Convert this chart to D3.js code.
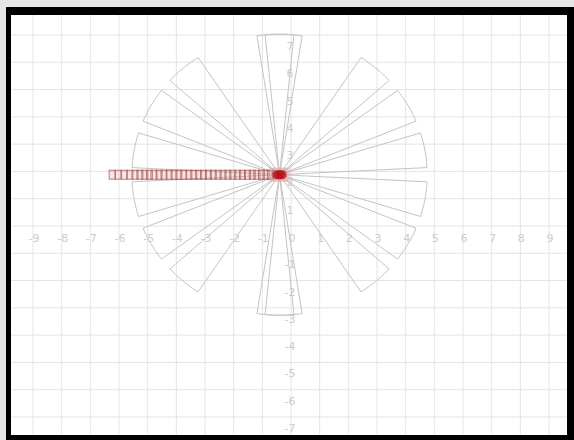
<!DOCTYPE html>
<html>
<head>
<meta charset="utf-8">
<script src="https://cdn.jsdelivr.net/npm/d3@7"></script>
<style>
  body { margin: 0; background: #e6e6e6; }
  svg { display: block; }
</style>
</head>
<body>
<div id="chart"></div>
<script>
// Width and height
var w = 574;
var h = 440;

// tick labels
var xTicks = [-9, -8, -7, -6, -5, -4, -3, -2, -1, 0, 1, 2, 3, 4, 5, 6, 7, 8, 9];
var yTicks = [7, 6, 5, 4, 3, 2, 1, -1, -2, -3, -4, -5, -6, -7];

// petals (degrees, data units)
var petalStart = [2.9, 22.4, 42.1, 81.2, 84.4, 123.5, 143.1, 162.7,
                  182.9, 202.4, 222.1, 261.2, 264.4, 303.5, 323.1, 342.7];
var petalEnd   = [17.3, 36.9, 56.5, 95.6, 98.8, 137.9, 157.6, 177.1,
                  197.3, 216.9, 236.5, 275.6, 278.8, 317.9, 337.6, 357.1];
var petalRadius = [5.15, 5.15, 5.15, 5.15, 5.15, 5.15, 5.15, 5.15,
                   5.15, 5.15, 5.15, 5.15, 5.15, 5.15, 5.15, 5.15];
var origin = [-0.4, 1.88];

// markers along the row
var markerX = [-6.24, -6.03, -5.82, -5.62, -5.44, -5.27, -5.10, -4.94, -4.78, -4.60,
               -4.43, -4.25, -4.08, -3.91, -3.74, -3.56, -3.39, -3.22, -3.05, -2.88,
               -2.71, -2.54, -2.37, -2.20, -2.03, -1.86, -1.69, -1.52, -1.35, -1.19,
               -1.03, -0.87, -0.72];
var markerY = 1.88;
var hotX = [-0.52, -0.46, -0.42, -0.38, -0.34, -0.30];

var svg = d3.select("#chart")
            .append("svg")
            .attr("width", w)
            .attr("height", h);

// frame
svg.append("rect")
   .attr("x", 6).attr("y", 7)
   .attr("width", 568).attr("height", 433)
   .attr("fill", "#000");
svg.append("rect")
   .attr("x", 11).attr("y", 15)
   .attr("width", 556).attr("height", 420)
   .attr("fill", "#fff");

// scales
var xScale = d3.scaleLinear().domain([-9, 9]).range([33, 549]);
var yScale = d3.scaleLinear().domain([-7, 7]).range([417, 35]);

// grid
var grid = svg.append("g").attr("class", "grid");
grid.selectAll("line.v")
    .data(xTicks)
    .enter()
    .append("line")
    .attr("class", "v")
    .attr("x1", function(d) { return xScale(d); })
    .attr("x2", function(d) { return xScale(d); })
    .attr("y1", 15).attr("y2", 435)
    .attr("stroke", "#e4e4e4");
grid.selectAll("line.h")
    .data(yTicks.concat([0]))
    .enter()
    .append("line")
    .attr("class", "h")
    .attr("y1", function(d) { return yScale(d); })
    .attr("y2", function(d) { return yScale(d); })
    .attr("x1", 11).attr("x2", 567)
    .attr("stroke", "#e4e4e4");

// tick labels
svg.selectAll("text.xl")
   .data(xTicks)
   .enter()
   .append("text")
   .attr("class", "xl")
   .attr("x", function(d) { return xScale(d) + 1; })
   .attr("y", yScale(0) + 16)
   .attr("text-anchor", "middle")
   .attr("font-family", "DejaVu Sans, sans-serif")
   .attr("font-size", "11px")
   .attr("fill", "#cccccc")
   .text(function(d) { return d; });

svg.selectAll("text.yl")
   .data(yTicks)
   .enter()
   .append("text")
   .attr("class", "yl")
   .attr("x", xScale(0) - 1)
   .attr("y", function(d) { return yScale(d) + 15; })
   .attr("text-anchor", "middle")
   .attr("font-family", "DejaVu Sans, sans-serif")
   .attr("font-size", "11px")
   .attr("fill", "#cccccc")
   .text(function(d) { return d; });

// petals
var petals = petalStart.map(function(s, i) {
  return { start: s, end: petalEnd[i], r: petalRadius[i] };
});

function petalPath(p) {
  var pts = [[xScale(origin[0]), yScale(origin[1])]];
  var steps = 12;
  for (var k = 0; k <= steps; k++) {
    var a = (p.start + (p.end - p.start) * k / steps) * Math.PI / 180;
    pts.push([xScale(origin[0] + p.r * Math.cos(a)),
              yScale(origin[1] + p.r * Math.sin(a))]);
  }
  return d3.line()(pts) + "Z";
}

svg.selectAll("path.petal")
   .data(petals)
   .enter()
   .append("path")
   .attr("class", "petal")
   .attr("d", petalPath)
   .attr("fill", "none")
   .attr("stroke", "#c4c4c4")
   .attr("stroke-width", 1);

// markers
svg.selectAll("rect.mk")
   .data(markerX)
   .enter()
   .append("rect")
   .attr("class", "mk")
   .attr("x", function(d) { return xScale(d) - 3; })
   .attr("y", yScale(markerY) - 4.5)
   .attr("width", 6)
   .attr("height", 9)
   .attr("fill", "rgba(215,150,150,0.25)")
   .attr("stroke", "#9b3a3a")
   .attr("stroke-opacity", 0.7)
   .attr("stroke-width", 0.9);

// halo + hot spot
svg.selectAll("rect.halo")
   .data(hotX)
   .enter()
   .append("rect")
   .attr("class", "halo")
   .attr("x", function(d) { return xScale(d) - 9; })
   .attr("y", yScale(markerY) - 7)
   .attr("width", 18)
   .attr("height", 14)
   .attr("fill", "rgba(230,150,150,0.12)");

svg.selectAll("circle.hot")
   .data(hotX)
   .enter()
   .append("circle")
   .attr("class", "hot")
   .attr("cx", function(d) { return xScale(d); })
   .attr("cy", yScale(markerY))
   .attr("r", 4.5)
   .attr("fill", "#b3121c")
   .attr("fill-opacity", 0.55);
</script>
</body>
</html>
